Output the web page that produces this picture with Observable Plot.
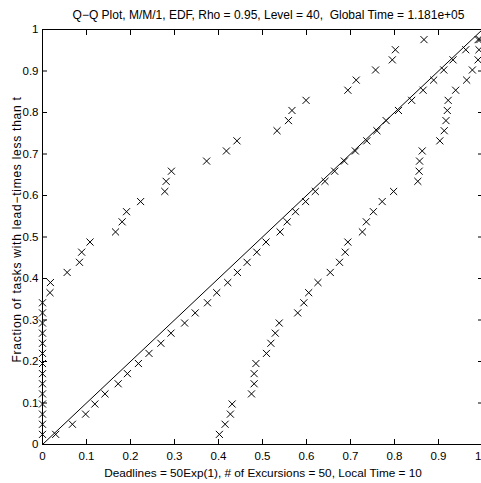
<!DOCTYPE html>
<html>
<head>
<meta charset="utf-8">
<script src="https://cdn.jsdelivr.net/npm/d3@7"></script>
<script src="https://cdn.jsdelivr.net/npm/@observablehq/plot@0.6"></script>
<style>
html, body { margin: 0; padding: 0; background: #fff; overflow: hidden; }
#chart svg { display: block; max-width: none !important; }
</style>
</head>
<body>
<div id="chart"></div>
<script>
// EDF levels k/41, k = 1..40
const levels = d3.range(1, 41).map(k => k / 41);

// Upper-left series (quantiles)
const seriesA = [0, 0, 0, 0, 0, 0, 0, 0, 0, 0, 0, 0, 0, 0,
  0.017, 0.018, 0.056, 0.084, 0.089, 0.108, 0.166, 0.181, 0.191, 0.223,
  0.278, 0.281, 0.293, 0.373, 0.418, 0.442, 0.533, 0.559, 0.567, 0.599,
  0.694, 0.713, 0.757, 0.795, 0.802, 0.867];

// Near-diagonal series
const seriesB = [0.030, 0.068, 0.098, 0.119, 0.142, 0.172, 0.193, 0.218, 0.242, 0.269,
  0.292, 0.323, 0.347, 0.375, 0.396, 0.421, 0.443, 0.465, 0.487, 0.508,
  0.540, 0.556, 0.575, 0.598, 0.620, 0.642, 0.664, 0.686, 0.711, 0.737,
  0.760, 0.781, 0.809, 0.839, 0.865, 0.889, 0.912, 0.933, 0.962, 0.990];

// Lower-right series
const seriesC = [0.402, 0.415, 0.427, 0.431, 0.475, 0.481, 0.481, 0.485, 0.509, 0.519,
  0.529, 0.538, 0.580, 0.594, 0.605, 0.626, 0.654, 0.675, 0.688, 0.694,
  0.727, 0.736, 0.752, 0.772, 0.798, 0.853, 0.856, 0.857, 0.863, 0.903,
  0.913, 0.917, 0.920, 0.922, 0.939, 0.964, 0.977, 0.990, 0.992, 0.994];

const refLine = [0, 1];
const xTicks = [0, 0.1, 0.2, 0.3, 0.4, 0.5, 0.6, 0.7, 0.8, 0.9, 1];
const yTicks = [0, 0.1, 0.2, 0.3, 0.4, 0.5, 0.6, 0.7, 0.8, 0.9, 1];

const titleText = "Q\u2212Q Plot, M/M/1, EDF, Rho = 0.95, Level = 40,  Global Time = 1.181e+05";
const xLabelText = "Deadlines = 50Exp(1), # of Excursions = 50, Local Time = 10";
const yLabelText = "Fraction of tasks with lead\u2212times less than t";

const points = [
  ...seriesA.map((x, i) => ({x, y: levels[i]})),
  ...seriesB.map((x, i) => ({x, y: levels[i]})),
  ...seriesC.map((x, i) => ({x, y: levels[i]}))
];

const fmt = d => d === 0 ? "0" : d === 1 ? "1" : String(d);
const lastX = xTicks[xTicks.length - 1];

const chart = Plot.plot({
  width: 495,
  height: 483,
  marginLeft: 42,
  marginRight: 13,
  marginTop: 29,
  marginBottom: 39,
  style: {fontFamily: "'Liberation Sans', Arial, sans-serif", fontSize: "11.5px", color: "black", background: "white", maxWidth: "none"},
  x: {domain: [0, 1], label: null},
  y: {domain: [0, 1], label: null},
  marks: [
    Plot.line(refLine, {x: d => d, y: d => d, stroke: "black", strokeWidth: 1}),
    Plot.dot(points, {x: "x", y: "y", symbol: "times", r: 3.3, stroke: "black", strokeWidth: 1}),
    Plot.frame({stroke: "black", strokeWidth: 1}),
    Plot.axisX(xTicks, {anchor: "bottom", tickSize: -5, tickPadding: 12, tickFormat: d => d === lastX ? "" : fmt(d), fontSize: 11.5}),
    Plot.text([lastX], {x: d => d, frameAnchor: "bottom", text: fmt, textAnchor: "end", lineAnchor: "top", dx: -1, dy: 7, fontSize: 11.5}),
    Plot.axisX(xTicks, {anchor: "top", tickSize: -5, tickFormat: () => ""}),
    Plot.axisY(yTicks, {anchor: "left", tickSize: -5, tickPadding: 9, tickFormat: fmt, fontSize: 11.5}),
    Plot.axisY(yTicks, {anchor: "right", tickSize: -5, tickFormat: () => ""}),
    Plot.text([titleText], {frameAnchor: "top", textAnchor: "middle", dx: 6, dy: -11, lineAnchor: "bottom", fontSize: 12}),
    Plot.text([xLabelText], {frameAnchor: "bottom", textAnchor: "middle", dx: 0.5, dy: 32, lineAnchor: "bottom", fontSize: 11.8}),
    Plot.text([yLabelText], {frameAnchor: "left", textAnchor: "middle", rotate: -90, dx: -21.5, dy: -7.5, lineAnchor: "bottom", fontSize: 12})
  ]
});
d3.select(chart).selectAll("text")
  .filter(function() { return this.textContent === yLabelText; })
  .attr("letter-spacing", "0.75px");
document.getElementById("chart").appendChild(chart);
</script>
</body>
</html>
